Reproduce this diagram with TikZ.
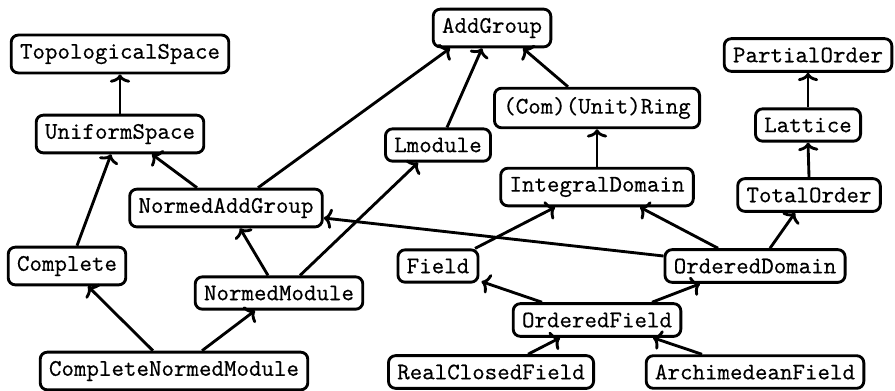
\documentclass[tikz,border=0pt]{standalone}
\usepackage{fontspec}
\newfontfamily\clsfont{Latin Modern Mono}[FakeBold=0.3]
\usetikzlibrary{calc,arrows.meta}
\begin{document}
\begin{tikzpicture}[x=0.42pt,y=-0.42pt,
  cls/.style={draw,line width=1.2pt,rounded corners=3pt,inner sep=3.7pt,font=\clsfont},
  ed/.style={line width=1.2pt,-{Computer Modern Rightarrow[width=8.5pt,length=3.5pt]}}]
\useasboundingbox (0,0) rectangle (895,390);
\node[cls] (top) at (120,54) {TopologicalSpace};
\node[cls] (uni) at (120,134) {UniformSpace};
\node[cls] (add) at (492,28) {AddGroup};
\node[cls] (lmod) at (438,145) {Lmodule};
\node[cls] (ring) at (597,108) {(Com)(Unit)Ring};
\node[cls] (po) at (808,55) {PartialOrder};
\node[cls] (lat) at (808,125) {Lattice};
\node[cls] (idom) at (597,187) {IntegralDomain};
\node[cls] (tot) at (809,195) {TotalOrder};
\node[cls] (nag) at (226,208) {NormedAddGroup};
\node[cls] (comp) at (67,266) {Complete};
\node[cls] (nmod) at (279,293) {NormedModule};
\node[cls] (cnm) at (174,371) {CompleteNormedModule};
\node[cls] (field) at (438,266) {Field};
\node[cls] (odom) at (755,266) {OrderedDomain};
\node[cls] (ofield) at (597,320) {OrderedField};
\node[cls] (rcf) at (491,372) {RealClosedField};
\node[cls] (arch) at (755,372) {ArchimedeanField};

\draw[ed] (uni.north) -- (top.south);
\draw[ed] ($(comp.north)+(10,0)$) -- ($(uni.south)+(-9,0)$);
\draw[ed] ($(nag.north)+(-29,0)$) -- ($(uni.south)+(32,0)$);
\draw[ed] ($(nag.north)+(32,0)$) -- ($(add.south)+(-42,0)$);
\draw[ed] ($(lmod.north)+(9,0)$) -- ($(add.south)+(-10,0)$);
\draw[ed] ($(ring.north)+(-29,0)$) -- ($(add.south)+(31,0)$);
\draw[ed] (idom.north) -- (ring.south);
\draw[ed] (lat.north) -- (po.south);
\draw[ed] (tot.north) -- (lat.south);
\draw[ed] ($(nmod.north)+(-11,0)$) -- ($(nag.south)+(14,0)$);
\draw[ed] ($(nmod.north)+(21,0)$) -- ($(lmod.south)+(-20,0)$);
\draw[ed] ($(cnm.north)+(-21,0)$) -- ($(comp.south)+(21,0)$);
\draw[ed] ($(cnm.north)+(28,0)$) -- ($(nmod.south)+(-24,0)$);
\draw[ed] ($(odom.west)+(0,-10)$) -- ($(nag.east)+(0,10)$);
\draw[ed] ($(field.north)+(37,0)$) -- ($(idom.south)+(-42,0)$);
\draw[ed] ($(odom.north)+(-37,0)$) -- ($(idom.south)+(43,0)$);
\draw[ed] ($(odom.north)+(15,0)$) -- ($(tot.south)+(-14,0)$);
\draw[ed] ($(ofield.north)+(-55,0)$) -- ($(field.south east)+(2,-2)$);
\draw[ed] ($(ofield.north)+(55,0)$) -- ($(odom.south)+(-55,0)$);
\draw[ed] ($(rcf.north)+(37,0)$) -- ($(ofield.south)+(-37,0)$);
\draw[ed] ($(arch.north)+(-53,0)$) -- ($(ofield.south)+(56,0)$);
\end{tikzpicture}
\end{document}
